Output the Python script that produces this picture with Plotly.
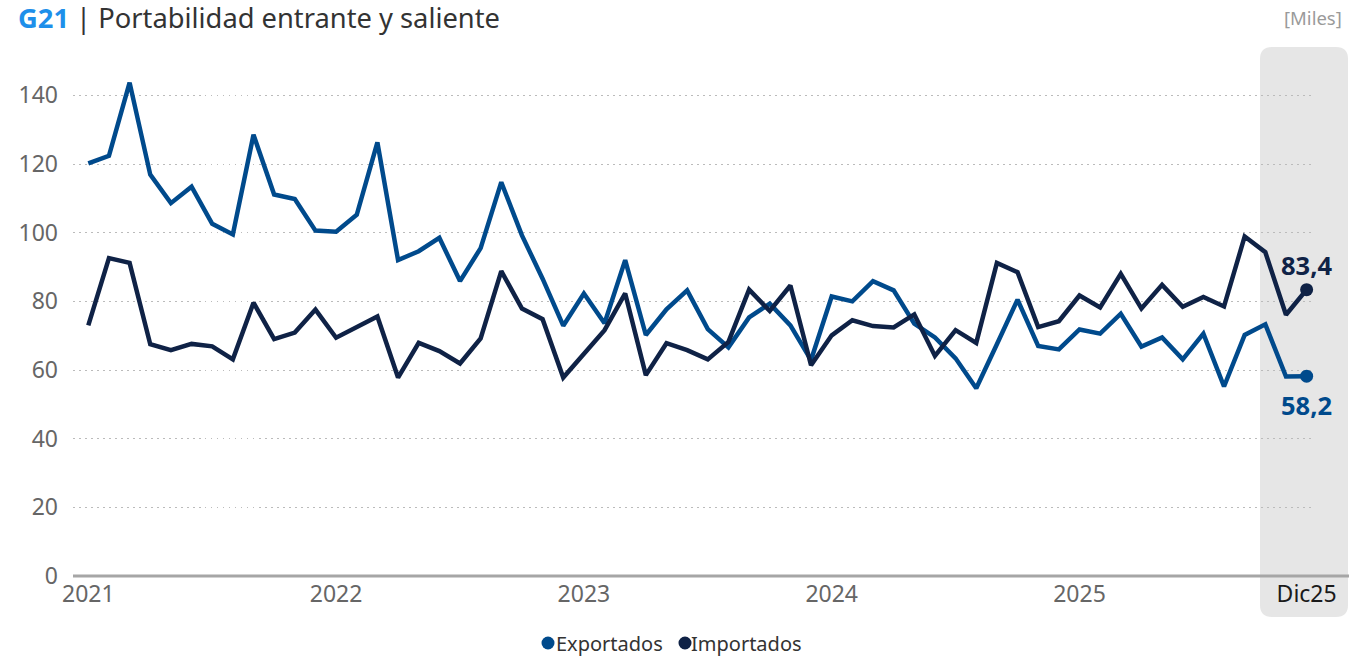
import plotly.graph_objects as go

# ---------------- data ----------------
mes_abbr = ["Ene", "Feb", "Mar", "Abr", "May", "Jun", "Jul", "Ago", "Sep", "Oct", "Nov", "Dic"]
years = ["21", "22", "23", "24", "25"]
months = [m + y for y in years for m in mes_abbr]

exportados = [120.2, 122.4, 143.7, 116.9, 108.6, 113.4, 102.6, 99.5, 128.5, 111.1, 109.8, 100.6,
              100.3, 105.2, 126.3, 92.0, 94.6, 98.5, 85.9, 95.5, 114.7, 99.2, 86.6, 72.9,
              82.3, 73.6, 92.0, 70.2, 77.7, 83.2, 71.9, 66.6, 75.3, 79.3, 73.0, 62.9,
              81.4, 80.0, 85.9, 83.2, 73.5, 69.5, 63.4, 54.7, 67.5, 80.5, 67.0, 66.0,
              71.8, 70.6, 76.4, 66.8, 69.5, 63.1, 70.6, 55.2, 70.2, 73.3, 58.1, 58.2]
importados = [73.0, 92.6, 91.2, 67.5, 65.8, 67.6, 66.9, 63.1, 79.6, 69.0, 70.9, 77.6,
              69.4, 72.5, 75.6, 57.8, 67.9, 65.5, 61.9, 69.2, 88.8, 77.9, 74.8, 57.8,
              64.8, 71.6, 82.3, 58.5, 67.8, 65.8, 63.1, 68.2, 83.4, 77.2, 84.6, 61.4,
              70.1, 74.5, 72.8, 72.4, 76.2, 64.1, 71.6, 67.9, 91.2, 88.5, 72.5, 74.2,
              81.7, 78.2, 88.0, 77.9, 84.8, 78.4, 81.3, 78.5, 98.9, 94.3, 76.1, 83.4]

tick_vals = ["Ene21", "Ene22", "Ene23", "Ene24", "Ene25", "Dic25"]
tick_text = ["2021", "2022", "2023", "2024", "2025", "<span style='color:#1a1a1a'>Dic25</span>"]
y_ticks = [0, 20, 40, 60, 80, 100, 120, 140]

series_names = ["Exportados", "Importados"]
last_exp_label = "58,2"
last_imp_label = "83,4"

C_EXP = "#004A8C"
C_IMP = "#0F2246"
FONT = "Noto Sans"

# ---------------- layout geometry (pixels) ----------------
W, H = 1349, 658
L, R, T, B = 73, 37, 61, 82
pw, ph = W - L - R, H - T - B


def X(px):
    return (px - L) / pw


def Y(py):
    return (H - B - py) / ph


fig = go.Figure()

fig.add_trace(go.Scatter(x=months, y=exportados, mode="lines", name=series_names[0],
                         line=dict(color=C_EXP, width=4.5), showlegend=False,
                         hovertemplate="%{x}: %{y:.1f}<extra>Exportados</extra>"))
fig.add_trace(go.Scatter(x=months, y=importados, mode="lines", name=series_names[1],
                         line=dict(color=C_IMP, width=4.5), showlegend=False,
                         hovertemplate="%{x}: %{y:.1f}<extra>Importados</extra>"))

# last point markers
fig.add_trace(go.Scatter(x=[months[-1]], y=[exportados[-1]], mode="markers",
                         marker=dict(color=C_EXP, size=13), cliponaxis=False,
                         showlegend=False, hoverinfo="skip"))
fig.add_trace(go.Scatter(x=[months[-1]], y=[importados[-1]], mode="markers",
                         marker=dict(color=C_IMP, size=13), cliponaxis=False,
                         showlegend=False, hoverinfo="skip"))

# highlighted band (rounded rectangle) for the last month
bx0, bx1, by0, by1, rad = 1260, 1348, 47, 617, 12
path = (f"M {X(bx0 + rad)},{Y(by0)} L {X(bx1 - rad)},{Y(by0)} "
        f"Q {X(bx1)},{Y(by0)} {X(bx1)},{Y(by0 + rad)} "
        f"L {X(bx1)},{Y(by1 - rad)} Q {X(bx1)},{Y(by1)} {X(bx1 - rad)},{Y(by1)} "
        f"L {X(bx0 + rad)},{Y(by1)} Q {X(bx0)},{Y(by1)} {X(bx0)},{Y(by1 - rad)} "
        f"L {X(bx0)},{Y(by0 + rad)} Q {X(bx0)},{Y(by0)} {X(bx0 + rad)},{Y(by0)} Z")
shapes = [
    dict(type="path", path=path, xref="paper", yref="paper",
         fillcolor="#E6E6E6", line=dict(width=0), layer="below"),
    dict(type="line", xref="paper", yref="paper", x0=0, x1=X(W), y0=0, y1=0,
         line=dict(color="#A6A6A6", width=3), layer="above"),
]

# custom legend: circles + labels
legend_items = [(548, 557, C_EXP, series_names[0]), (685, 692, C_IMP, series_names[1])]
ly, lr = 643, 6.5
annotations = [
    dict(text="<b><span style='color:#1E8FEA'>G21</span></b> | Portabilidad entrante y saliente",
         xref="paper", yref="paper", x=X(16), y=Y(18), xanchor="left", yanchor="middle",
         showarrow=False, font=dict(family=FONT, size=27.3, color="#333333")),
    dict(text="[Miles]", xref="paper", yref="paper", x=X(1344), y=Y(18),
         xanchor="right", yanchor="middle", showarrow=False,
         font=dict(family=FONT, size=18.5, color="#9a9a9a")),
    # end-point value labels
    dict(text=f"<b>{last_imp_label}</b>", x=months[-1], y=importados[-1], xref="x", yref="y",
         xanchor="center", yanchor="middle", yshift=25, showarrow=False,
         font=dict(family=FONT, size=25.5, color=C_IMP)),
    dict(text=f"<b>{last_exp_label}</b>", x=months[-1], y=exportados[-1], xref="x", yref="y",
         xanchor="center", yanchor="middle", yshift=-29, showarrow=False,
         font=dict(family=FONT, size=25.5, color=C_EXP)),
]
for cx, tx, col, name in legend_items:
    shapes.append(dict(type="circle", xref="paper", yref="paper",
                       x0=X(cx - lr), x1=X(cx + lr), y0=Y(ly + lr), y1=Y(ly - lr),
                       fillcolor=col, line=dict(width=0)))
    annotations.append(dict(text=name, xref="paper", yref="paper", x=X(tx - 3), y=Y(ly),
                            xanchor="left", yanchor="middle", showarrow=False,
                            font=dict(family=FONT, size=20, color="#333333")))

fig.update_layout(
    width=W, height=H,
    margin=dict(l=L, r=R, t=T, b=B),
    paper_bgcolor="white",
    plot_bgcolor="rgba(0,0,0,0)",
    font=dict(family=FONT, color="#666666"),
    shapes=shapes,
    annotations=annotations,
    showlegend=False,
    xaxis=dict(type="category", categoryorder="array", categoryarray=months,
               range=[-0.741, 59.26], tickmode="array", tickvals=tick_vals, ticktext=tick_text,
               showgrid=False, zeroline=False, showline=False, ticks="",
               tickfont=dict(family=FONT, size=23, color="#666666"), ticklabelstandoff=2),
    yaxis=dict(range=[0, 150], tickmode="array", tickvals=y_ticks,
               showgrid=True, gridcolor="#BBBBBB", gridwidth=1, griddash="1.5px,4.5px",
               zeroline=False, showline=False, ticks="",
               tickfont=dict(family=FONT, size=23, color="#666666"), ticklabelstandoff=14),
)

fig.write_html("out.html", config={"displayModeBar": False},
               post_script="document.body.style.margin='0';document.body.style.overflow='hidden';")
